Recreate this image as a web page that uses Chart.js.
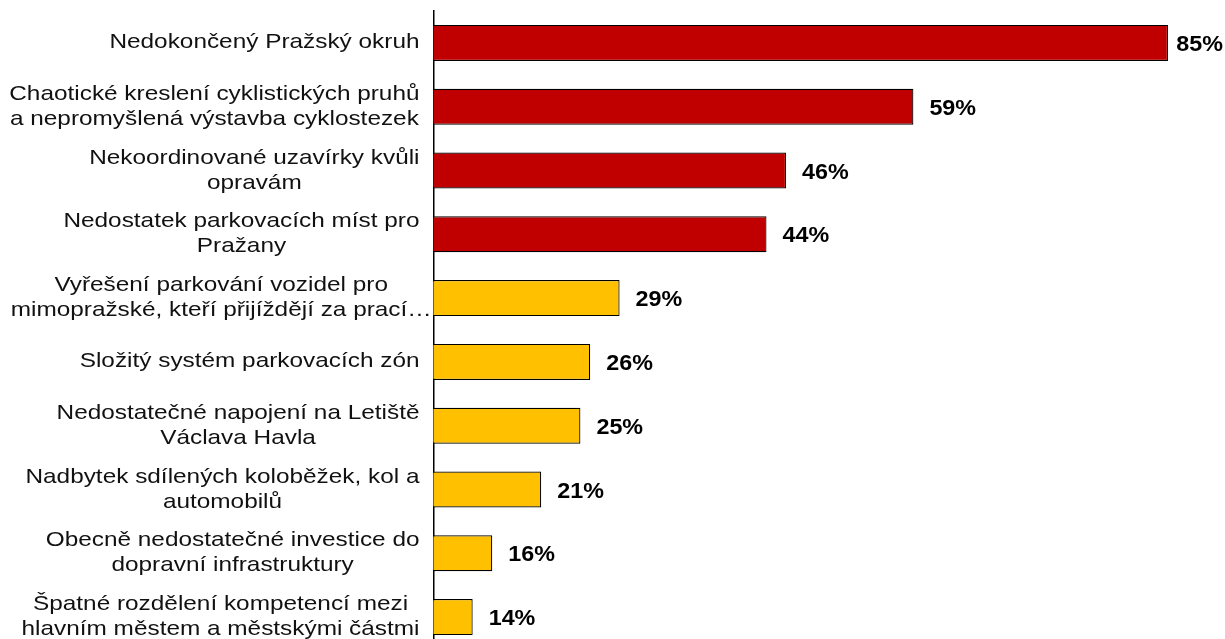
<!DOCTYPE html>
<html>
<head>
<meta charset="utf-8">
<script src="https://cdn.jsdelivr.net/npm/chart.js@4.4.1/dist/chart.umd.min.js"></script>
<style>
  html, body { margin: 0; padding: 0; background: #fff; overflow: hidden; }
  #wrap { position: relative; width: 1225px; height: 650px; }
</style>
</head>
<body>
<div id="wrap"><canvas id="c"></canvas></div>
<script>
const categories = [
  ["Nedokončený Pražský okruh"],
  ["Chaotické kreslení cyklistických pruhů", "a nepromyšlená výstavba cyklostezek"],
  ["Nekoordinované uzavírky kvůli", "opravám"],
  ["Nedostatek parkovacích míst pro", "Pražany"],
  ["Vyřešení parkování vozidel pro", "mimopražské, kteří přijíždějí za prací…"],
  ["Složitý systém parkovacích zón"],
  ["Nedostatečné napojení na Letiště", "Václava Havla"],
  ["Nadbytek sdílených koloběžek, kol a", "automobilů"],
  ["Obecně nedostatečné investice do", "dopravní infrastruktury"],
  ["Špatné rozdělení kompetencí mezi", "hlavním městem a městskými částmi"]
];
const values = [85, 59, 46, 44, 29, 26, 25, 21, 16, 14];
const barColors = ["#C00000", "#C00000", "#C00000", "#C00000", "#FFC000", "#FFC000", "#FFC000", "#FFC000", "#FFC000", "#FFC000"];

const catLabelPlugin = {
  id: 'catLabels',
  afterDraw(chart) {
    const ctx = chart.ctx;
    const ys = chart.scales.y;
    const xs = chart.scales.x;
    ctx.save();
    ctx.font = '21px "Liberation Sans", Arial, sans-serif';
    ctx.fillStyle = '#111';
    ctx.textBaseline = 'alphabetic';
    ctx.textAlign = 'center';
    const sx = 1.16;
    const rightEdge = xs.left - 14;
    const lh = 25;
    categories.forEach((lines, i) => {
      const y = ys.getPixelForTick(i);
      const w = Math.max(...lines.map(l => ctx.measureText(l.replace(/…$/, '')).width)) * sx;
      const cx = rightEdge - w / 2;
      lines.forEach((l, k) => {
        const by = y + 5.5 + (k - (lines.length - 1) / 2) * lh;
        ctx.save();
        ctx.translate(cx, by);
        ctx.scale(sx, 1);
        ctx.fillText(l, 0, 0);
        ctx.restore();
      });
    });
    // value labels
    ctx.font = 'bold 22px "Liberation Sans", Arial, sans-serif';
    ctx.fillStyle = '#000';
    ctx.textAlign = 'left';
    const vsx = 1.06;
    const meta = chart.getDatasetMeta(0);
    meta.data.forEach((bar, i) => {
      const txt = values[i] + '%';
      const tw = ctx.measureText(txt).width * vsx;
      let x = bar.x + 16;
      if (x + tw > chart.width - 2) x = Math.max(bar.x + 7, chart.width - 2 - tw);
      ctx.save();
      ctx.translate(x, bar.y + 8);
      ctx.scale(vsx, 1);
      ctx.fillText(txt, 0, 0);
      ctx.restore();
    });
    ctx.restore();
  }
};

new Chart(document.getElementById('c'), {
  type: 'bar',
  data: {
    labels: categories.map(c => c.join(' ')),
    datasets: [{
      data: values,
      backgroundColor: barColors,
      borderColor: '#000',
      borderWidth: 1.2,
      borderSkipped: 'left',
      barPercentage: 0.565,
      categoryPercentage: 1
    }]
  },
  options: {
    indexAxis: 'y',
    responsive: true,
    maintainAspectRatio: false,
    animation: false,
    layout: { padding: { top: 11, bottom: 1, right: 8, left: 0 } },
    plugins: { legend: { display: false }, tooltip: { enabled: false } },
    scales: {
      x: {
        min: 10, max: 90,
        display: false,
        grid: { display: false }
      },
      y: {
        grid: { display: false, drawTicks: false },
        border: { display: true, color: '#000', width: 1.5 },
        ticks: { display: false },
        afterFit(scale) { scale.width = 433.5; }
      }
    }
  },
  plugins: [catLabelPlugin]
});
</script>
</body>
</html>
